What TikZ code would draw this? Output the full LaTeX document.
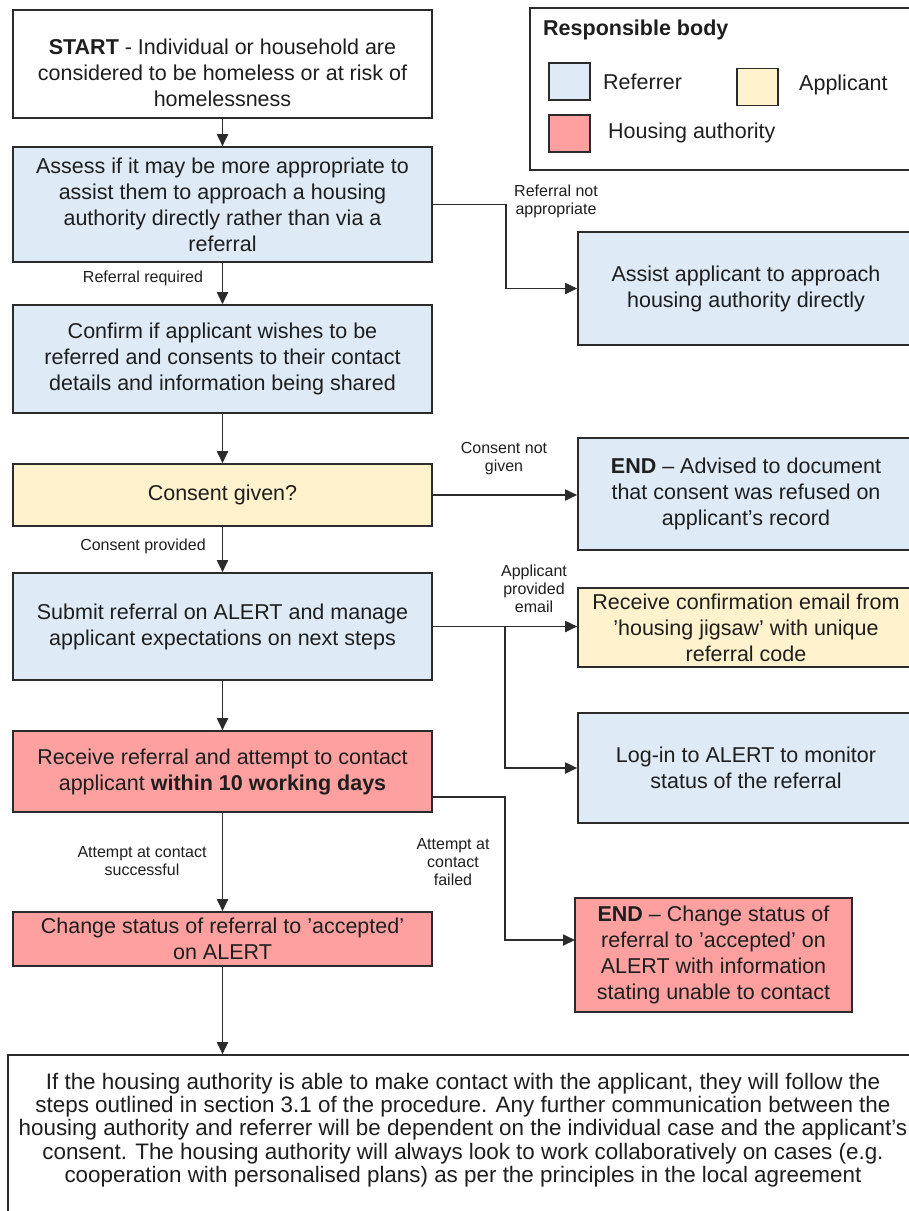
\documentclass[tikz,border=0pt]{standalone}
\usepackage{fontspec}
\setmainfont{Liberation Sans}
\usetikzlibrary{arrows.meta}
\definecolor{refblue}{HTML}{DEEAF6}
\definecolor{appyel}{HTML}{FFF2CC}
\definecolor{hared}{HTML}{FFA0A0}
\definecolor{txt}{HTML}{1E1E1E}
\definecolor{edge}{HTML}{2B2B2B}
\begin{document}
\begin{tikzpicture}[x=1pt,y=-1pt,
  box/.style={draw=edge, line width=1.6pt, align=center, inner sep=0pt, text=txt, font=\fontsize{21.5}{26}\selectfont},
  boxtext/.style={align=center, inner sep=0pt, text=txt, font=\fontsize{21.5}{26}\selectfont},
  lbl/.style={align=center, text=txt, inner sep=0pt, font=\fontsize{16}{18}\selectfont},
  arr/.style={draw=edge, line width=1.8pt, -{Triangle[length=12pt,width=11pt]}},
  swatch/.style={draw=edge, line width=1.6pt, minimum width=41pt, minimum height=37pt, inner sep=0pt},
  legtext/.style={anchor=west, inner sep=0pt, text=txt, font=\fontsize{21.5}{26}\selectfont},
]
\useasboundingbox (0,0) rectangle (909,1211);
\clip (0,0) rectangle (909,1211);

% left column
\node[box, fill=white, minimum width=419pt, minimum height=108pt] (start) at (222.5,64) {};
\node[boxtext] (starttxt) at (222.5,73)
  {\textbf{START} - Individual or household are\\considered to be homeless or at risk of\\homelessness};
\node[box, fill=refblue, minimum width=419pt, minimum height=115pt] (assess) at (222.5,204.5)
  {Assess if it may be more appropriate to\\assist them to approach a housing\\authority directly rather than via a\\referral};
\node[box, fill=refblue, minimum width=419pt, minimum height=108pt] (confirm) at (222.5,359)
  {Confirm if applicant wishes to be\\referred and consents to their contact\\details and information being shared};
\node[box, fill=appyel, minimum width=419pt, minimum height=62pt] (consent) at (222.5,495)
  {Consent given?};
\node[box, fill=refblue, minimum width=419pt, minimum height=107pt] (submit) at (222.5,626.5)
  {Submit referral on ALERT and manage\\applicant expectations on next steps};
\node[box, fill=hared, minimum width=419pt, minimum height=81pt] (receive) at (222.5,771.5)
  {Receive referral and attempt to contact\\applicant \textbf{within 10 working days}};
\node[box, fill=hared, minimum width=419pt, minimum height=54pt] (change) at (222.5,939)
  {Change status of referral to 'accepted'\\on ALERT};
\node[box, fill=white, minimum width=910pt, minimum height=190pt] (bottom) at (463,1150) {};
\node[align=center, inner sep=0pt, text=txt, font=\fontsize{22.4}{23.4}\selectfont] (btxt) at (463,1130)
  {If the housing authority is able to make contact with the applicant, they will follow the\\
   steps outlined in section 3.1 of the procedure. Any further communication between the\\
   housing authority and referrer will be dependent on the individual case and the applicant's\\
   consent. The housing authority will always look to work collaboratively on cases (e.g.\\
   cooperation with personalised plans) as per the principles in the local agreement};

% right column
\node[box, fill=refblue, minimum width=336pt, minimum height=113pt] (assist) at (746,288.5)
  {Assist applicant to approach\\housing authority directly};
\node[box, fill=refblue, minimum width=336pt, minimum height=112pt] (endc) at (746,494)
  {\textbf{END} – Advised to document\\that consent was refused on\\applicant's record};
\node[box, fill=appyel, minimum width=336pt, minimum height=79pt] (email) at (746,627.5)
  {Receive confirmation email from\\'housing jigsaw' with unique\\referral code};
\node[box, fill=refblue, minimum width=336pt, minimum height=110pt] (login) at (746,768)
  {Log-in to ALERT to monitor\\status of the referral};
\node[box, fill=hared, minimum width=277pt, minimum height=114pt] (endchange) at (713.5,955)
  {\textbf{END} – Change status of\\referral to 'accepted' on\\ALERT with information\\stating unable to contact};

% legend
\node[draw=edge, line width=1.6pt, minimum width=390pt, minimum height=162pt, inner sep=0pt] (legend) at (725,89) {};
\node[legtext, font=\bfseries\fontsize{21.5}{26}\selectfont] (legtitle) at (543,30) {Responsible body};
\node[swatch, fill=refblue] (sw1) at (569.5,81.5) {};
\node[legtext] (lt1) at (603,82) {Referrer};
\node[swatch, fill=appyel] (sw2) at (757.5,87) {};
\node[legtext] (lt2) at (799,85) {Applicant};
\node[swatch, fill=hared] (sw3) at (569.5,133.5) {};
\node[legtext] (lt3) at (608,133) {Housing authority};

% connectors
\draw[arr] (start) -- (assess);
\draw[arr] (assess) -- (confirm);
\draw[arr] (confirm) -- (consent);
\draw[arr] (consent) -- (submit);
\draw[arr] (submit) -- (receive);
\draw[arr] (receive) -- (change);
\draw[arr] (change.south) -- (change.south |- bottom.north);

\draw[arr] (assess.east) -- ++(73,0) |- (assist.west);
\draw[arr] (consent.east) -- (consent.east -| endc.west);
\draw[arr] (submit.east) -- (submit.east -| email.west);
\coordinate (jsub) at (505,626.5);
\draw[arr] (jsub) |- (login.west);
\coordinate (rout) at (432,797);
\coordinate (ein) at (575,940);
\draw[arr] (rout) -- (505,797) |- (ein);

% labels
\node[lbl] (l1) at (556,201) {Referral not\\appropriate};
\node[lbl] (l2) at (143,278) {Referral required};
\node[lbl] (l3) at (504,459) {Consent not\\given};
\node[lbl] (l4) at (143,546) {Consent provided};
\node[lbl] (l5) at (534,589) {Applicant\\provided\\email};
\node[lbl] (l6) at (142,861) {Attempt at contact\\successful};
\node[lbl] (l7) at (453,862) {Attempt at\\contact\\failed};
\end{tikzpicture}
\end{document}
